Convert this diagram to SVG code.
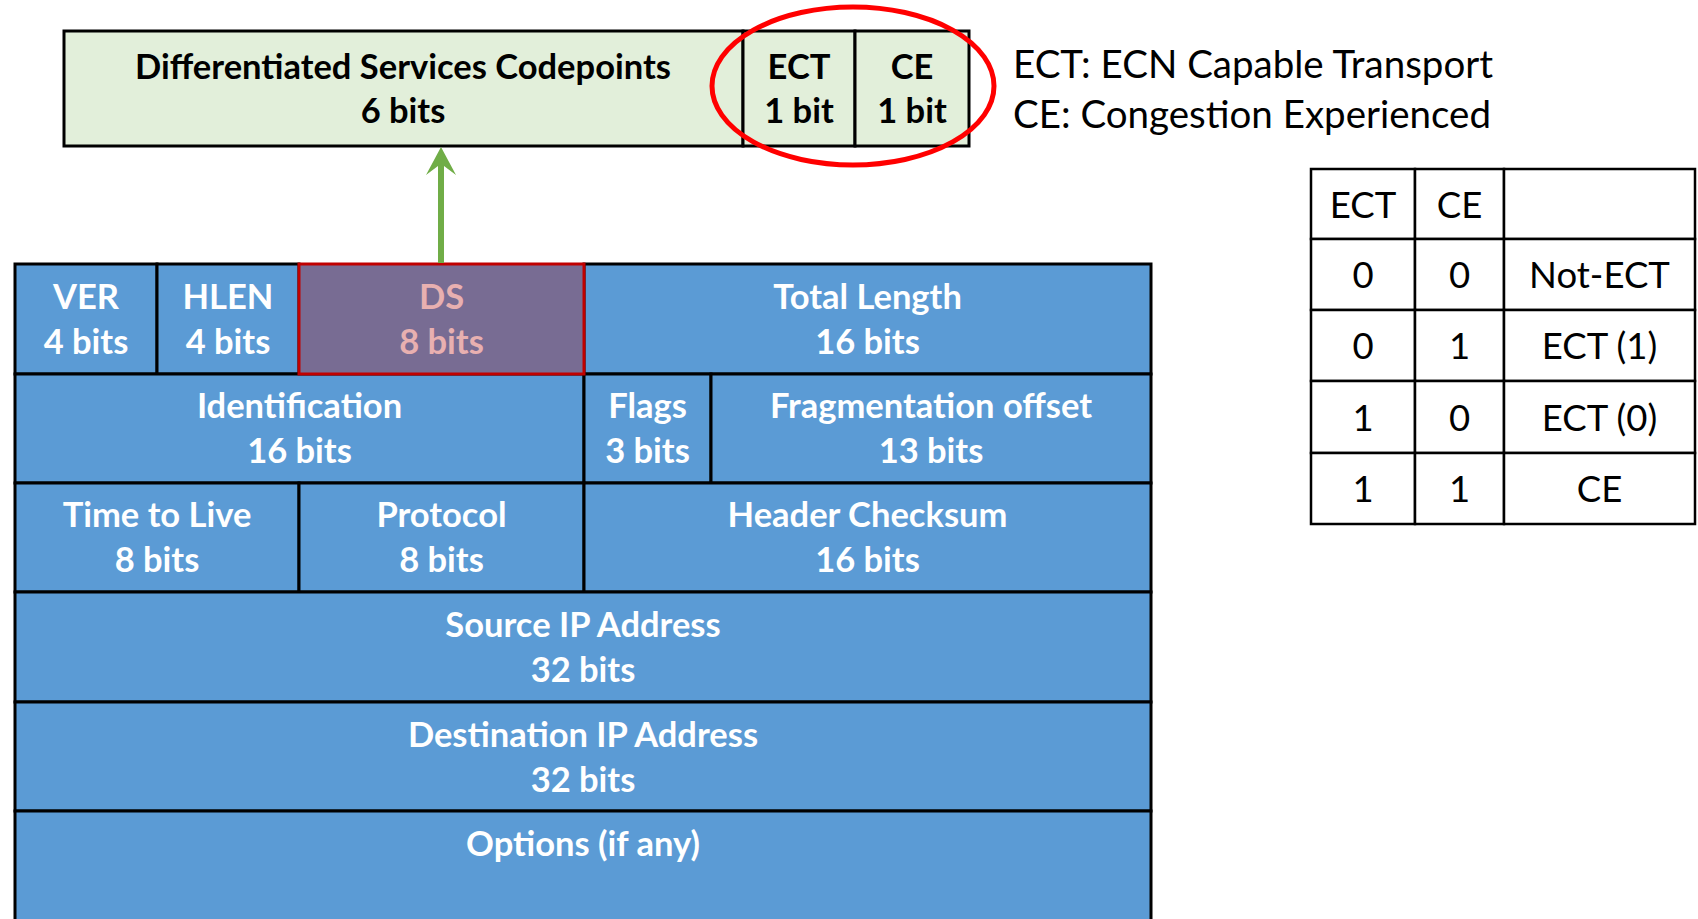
<svg xmlns="http://www.w3.org/2000/svg" width="1698" height="919" viewBox="0 0 1698 919">
  <style>
    .cell { fill: #5B9BD5; stroke: #000; stroke-width: 3; }
    .ds { fill: #786C93; stroke: #C00000; stroke-width: 3; }
    .dscp { fill: #E2EFDA; stroke: #000; stroke-width: 3; }
    .tcell { fill: #fff; stroke: #000; stroke-width: 2.5; }
    text { font-family: Lato, "Open Sans", sans-serif; text-anchor: middle; }
    .w { fill: #fff; font-weight: bold; font-size: 34.5px; }
    .dst { fill: #E8B0B0; font-weight: bold; font-size: 34.5px; }
    .b { fill: #000; font-weight: bold; font-size: 34.5px; }
    .t { fill: #000; font-size: 36.5px; }
    .note { fill: #000; font-size: 38.5px; text-anchor: start; }
  </style>

  <!-- DS byte breakdown -->
  <g id="dscp">
    <rect class="dscp" x="64" y="31" width="679" height="115"/>
    <text class="b" x="403" y="79">Differentiated Services Codepoints</text>
    <text class="b" x="403" y="123">6 bits</text>
  </g>
  <g id="ect-bit">
    <rect class="dscp" x="743" y="31" width="112" height="115"/>
    <text class="b" x="799" y="79">ECT</text>
    <text class="b" x="799" y="123">1 bit</text>
  </g>
  <g id="ce-bit">
    <rect class="dscp" x="855" y="31" width="114" height="115"/>
    <text class="b" x="912" y="79">CE</text>
    <text class="b" x="912" y="123">1 bit</text>
  </g>
  <g id="ecn-highlight">
    <ellipse cx="853" cy="86" rx="141" ry="79" fill="none" stroke="#FF0000" stroke-width="5"/>
  </g>

  <g id="legend">
    <text class="note" x="1013" y="78">ECT: ECN Capable Transport</text>
    <text class="note" x="1013" y="128">CE: Congestion Experienced</text>
  </g>

  <!-- IPv4 header -->
  <g id="ver"><rect class="cell" x="15" y="264" width="142" height="110"/>
    <text class="w" x="86" y="309">VER</text><text class="w" x="86" y="354">4 bits</text></g>
  <g id="hlen"><rect class="cell" x="157" y="264" width="142" height="110"/>
    <text class="w" x="228" y="309">HLEN</text><text class="w" x="228" y="354">4 bits</text></g>
  <g id="total-length"><rect class="cell" x="584" y="264" width="567" height="110"/>
    <text class="w" x="867.5" y="309">Total Length</text><text class="w" x="867.5" y="354">16 bits</text></g>

  <g id="identification"><rect class="cell" x="15" y="374" width="569" height="109"/>
    <text class="w" x="299.5" y="418">Identification</text><text class="w" x="299.5" y="463">16 bits</text></g>
  <g id="flags"><rect class="cell" x="584" y="374" width="127" height="109"/>
    <text class="w" x="647.5" y="418">Flags</text><text class="w" x="647.5" y="463">3 bits</text></g>
  <g id="frag-offset"><rect class="cell" x="711" y="374" width="440" height="109"/>
    <text class="w" x="931" y="418">Fragmentation offset</text><text class="w" x="931" y="463">13 bits</text></g>

  <g id="ttl"><rect class="cell" x="15" y="483" width="284" height="109"/>
    <text class="w" x="157" y="527">Time to Live</text><text class="w" x="157" y="572">8 bits</text></g>
  <g id="protocol"><rect class="cell" x="299" y="483" width="285" height="109"/>
    <text class="w" x="441.5" y="527">Protocol</text><text class="w" x="441.5" y="572">8 bits</text></g>
  <g id="checksum"><rect class="cell" x="584" y="483" width="567" height="109"/>
    <text class="w" x="867.5" y="527">Header Checksum</text><text class="w" x="867.5" y="572">16 bits</text></g>

  <g id="source"><rect class="cell" x="15" y="592" width="1136" height="110"/>
    <text class="w" x="583" y="637">Source IP Address</text><text class="w" x="583" y="682">32 bits</text></g>
  <g id="destination"><rect class="cell" x="15" y="702" width="1136" height="109"/>
    <text class="w" x="583" y="747">Destination IP Address</text><text class="w" x="583" y="792">32 bits</text></g>
  <g id="options"><rect class="cell" x="15" y="811" width="1136" height="130"/>
    <text class="w" x="583" y="856">Options (if any)</text></g>

  <g id="ds"><rect class="ds" x="299" y="264" width="285" height="110"/>
    <text class="dst" x="441.5" y="309">DS</text><text class="dst" x="441.5" y="354">8 bits</text></g>

  <!-- ECN codepoint table -->
  <g id="ecn-table">
    <rect class="tcell" x="1311" y="169" width="104" height="70"/>
    <rect class="tcell" x="1415" y="169" width="89" height="70"/>
    <rect class="tcell" x="1504" y="169" width="191" height="70"/>
    <rect class="tcell" x="1311" y="239" width="104" height="71"/>
    <rect class="tcell" x="1415" y="239" width="89" height="71"/>
    <rect class="tcell" x="1504" y="239" width="191" height="71"/>
    <rect class="tcell" x="1311" y="310" width="104" height="71"/>
    <rect class="tcell" x="1415" y="310" width="89" height="71"/>
    <rect class="tcell" x="1504" y="310" width="191" height="71"/>
    <rect class="tcell" x="1311" y="381" width="104" height="72"/>
    <rect class="tcell" x="1415" y="381" width="89" height="72"/>
    <rect class="tcell" x="1504" y="381" width="191" height="72"/>
    <rect class="tcell" x="1311" y="453" width="104" height="71"/>
    <rect class="tcell" x="1415" y="453" width="89" height="71"/>
    <rect class="tcell" x="1504" y="453" width="191" height="71"/>
    <text class="t" x="1363" y="218">ECT</text>
    <text class="t" x="1459.5" y="218">CE</text>
    <text class="t" x="1363" y="288">0</text>
    <text class="t" x="1459.5" y="288">0</text>
    <text class="t" x="1599.5" y="288">Not-ECT</text>
    <text class="t" x="1363" y="359">0</text>
    <text class="t" x="1459.5" y="359">1</text>
    <text class="t" x="1599.5" y="359">ECT (1)</text>
    <text class="t" x="1363" y="431">1</text>
    <text class="t" x="1459.5" y="431">0</text>
    <text class="t" x="1599.5" y="431">ECT (0)</text>
    <text class="t" x="1363" y="502">1</text>
    <text class="t" x="1459.5" y="502">1</text>
    <text class="t" x="1599.5" y="502">CE</text>
  </g>

  <!-- connectors -->
  <g id="connectors">
    <polygon fill="#70AD47" points="441,147 456,175 444,166 444,263 438,263 438,166 426,175"/>
  </g>
</svg>
